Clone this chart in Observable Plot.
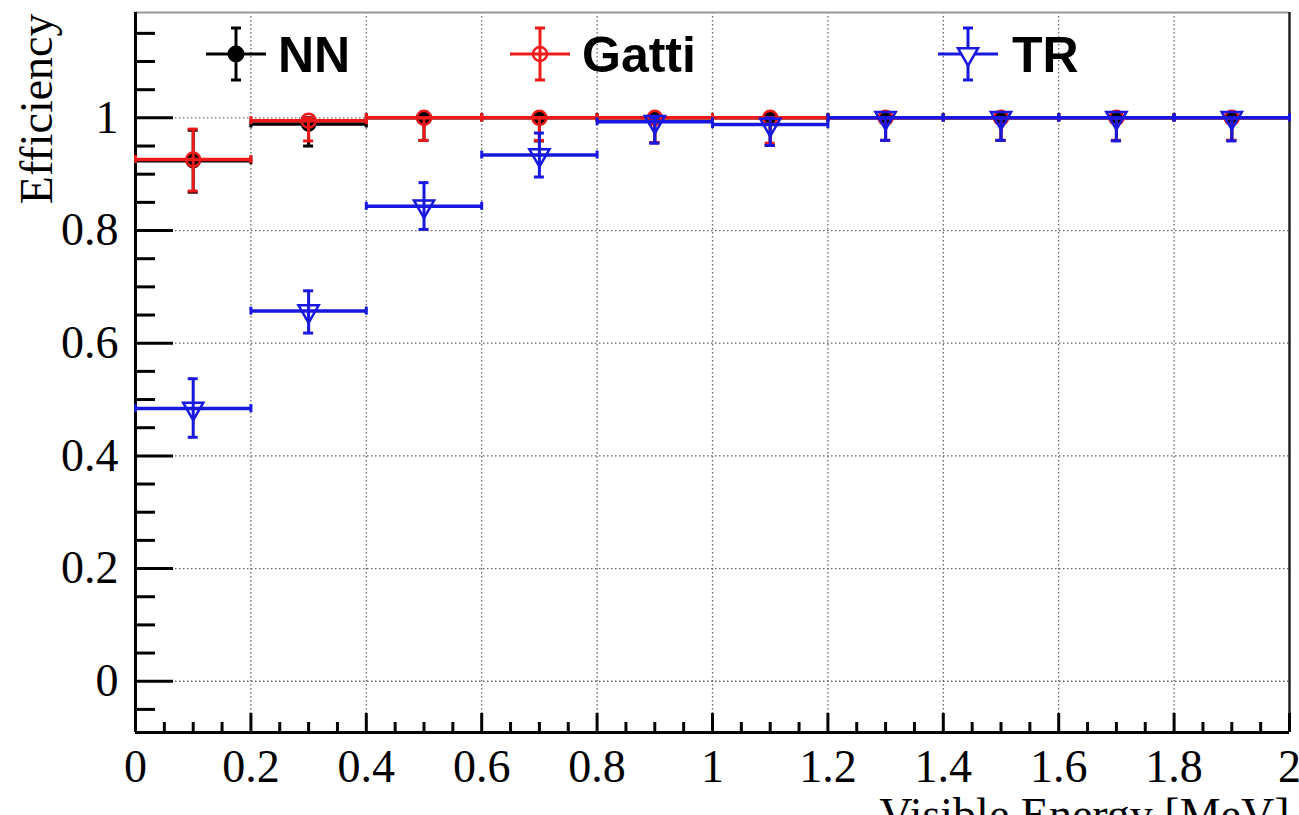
<!DOCTYPE html>
<html><head><meta charset="utf-8">
<script src="https://cdn.jsdelivr.net/npm/d3@7"></script>
<script src="https://cdn.jsdelivr.net/npm/@observablehq/plot@0.6"></script>
<style>html,body{margin:0;padding:0;background:#fff;overflow:hidden}</style>
</head><body><div id="chart"></div>
<script>
// ---- data ----
const binLo   = [0.0, 0.2, 0.4, 0.6, 0.8, 1.0, 1.2, 1.4, 1.6, 1.8];
const binHi   = [0.2, 0.4, 0.6, 0.8, 1.0, 1.2, 1.4, 1.6, 1.8, 2.0];
const binMid  = [0.1, 0.3, 0.5, 0.7, 0.9, 1.1, 1.3, 1.5, 1.7, 1.9];

const nnEff   = [0.924, 0.989, 1.000, 1.000, 1.000, 1.000, 1.000, 1.000, 1.000, 1.000];
const nnLo    = [0.868, 0.950, 0.960, 0.959, 0.956, 0.951, 0.960, 0.960, 0.960, 0.960];
const nnHi    = [0.978, 1.000, 1.000, 1.000, 1.000, 1.000, 1.000, 1.000, 1.000, 1.000];

const gattiEff = [0.926, 0.995, 1.000, 1.000, 1.000, 1.000, 1.000, 1.000, 1.000, 1.000];
const gattiLo  = [0.870, 0.959, 0.960, 0.960, 0.956, 0.955, 0.960, 0.960, 0.960, 0.960];
const gattiHi  = [0.980, 1.000, 1.000, 1.000, 1.000, 1.000, 1.000, 1.000, 1.000, 1.000];

const trEff   = [0.484, 0.657, 0.843, 0.934, 0.993, 0.988, 1.000, 1.000, 1.000, 1.000];
const trLo    = [0.433, 0.618, 0.802, 0.895, 0.955, 0.951, 0.960, 0.960, 0.959, 0.959];
const trHi    = [0.537, 0.693, 0.885, 0.973, 1.000, 1.000, 1.000, 1.000, 1.000, 1.000];

const seriesNames = ["NN", "Gatti", "TR"];

const xMajor = [0, 0.2, 0.4, 0.6, 0.8, 1, 1.2, 1.4, 1.6, 1.8, 2];
const xMinor = d3.range(0, 41).map(i => i * 0.05).filter((v, i) => i % 4 !== 0);
const yMajor = [0, 0.2, 0.4, 0.6, 0.8, 1];
const yMinor = [-0.05, 0.05, 0.1, 0.15, 0.25, 0.3, 0.35, 0.45, 0.5, 0.55, 0.65, 0.7, 0.75, 0.85, 0.9, 0.95, 1.05, 1.1, 1.15];
const xGrid = [0.2, 0.4, 0.6, 0.8, 1, 1.2, 1.4, 1.6, 1.8];
const yGrid = [0, 0.2, 0.4, 0.6, 0.8, 1];
const xDomain = [0, 2];
const yDomain = [-0.091, 1.187];

// ---- styling ----
const colors = {NN: "#000000", Gatti: "#ee1a1a", TR: "#1818e0"};
const serif = "'Liberation Serif', 'Times New Roman', serif";
const sans = "'Liberation Sans', Arial, sans-serif";

function rowsOf(eff, lo, hi) {
  return binMid.map((x, i) => ({x, x0: binLo[i], x1: binHi[i], y: eff[i], lo: lo[i], hi: hi[i]}));
}
const data = {
  NN: rowsOf(nnEff, nnLo, nnHi),
  Gatti: rowsOf(gattiEff, gattiLo, gattiHi),
  TR: rowsOf(trEff, trLo, trHi)
};

function seriesMarks(name) {
  const rows = data[name], c = colors[name];
  const marks = [
    Plot.ruleY(rows, {y: "y", x1: "x0", x2: "x1", stroke: c, strokeWidth: 3.5}),
    Plot.ruleX(rows, {x: "x", y1: "lo", y2: "hi", stroke: c, strokeWidth: 3}),
    Plot.ruleY(rows, {y: "lo", x1: "x", x2: "x", insetLeft: -5, insetRight: -5, stroke: c, strokeWidth: 3}),
    Plot.ruleY(rows, {y: "hi", x1: "x", x2: "x", insetLeft: -5, insetRight: -5, stroke: c, strokeWidth: 3}),
    Plot.ruleX(rows, {x: "x0", y1: "y", y2: "y", insetTop: -4, insetBottom: -4, stroke: c, strokeWidth: 3}),
    Plot.ruleX(rows, {x: "x1", y1: "y", y2: "y", insetTop: -4, insetBottom: -4, stroke: c, strokeWidth: 3})
  ];
  if (name === "NN") marks.push(Plot.dot(rows, {x: "x", y: "y", r: 7, fill: c, stroke: c}));
  if (name === "Gatti") marks.push(Plot.dot(rows, {x: "x", y: "y", r: 7, fill: "none", stroke: c, strokeWidth: 2.5}));
  if (name === "TR") marks.push(Plot.dot(rows, {x: "x", y: "y", r: 7.5, symbol: "triangle", rotate: 180, fill: "none", stroke: c, strokeWidth: 2.5}));
  return marks;
}

const W = 1299, H = 815;
const chart = Plot.plot({
  width: W, height: H,
  marginLeft: 135, marginRight: 10, marginTop: 12, marginBottom: 83,
  x: {domain: xDomain},
  y: {domain: yDomain},
  style: {background: "white"},
  marks: [
    // grid
    Plot.ruleX(xGrid, {stroke: "#666", strokeWidth: 1.3, strokeDasharray: "1.5,2.5"}),
    Plot.ruleY(yGrid, {stroke: "#666", strokeWidth: 1.3, strokeDasharray: "1.5,2.5"}),
    // frame
    Plot.ruleY([yDomain[1]], {stroke: "#999", strokeWidth: 2}),
    Plot.ruleX([xDomain[1]], {stroke: "#222", strokeWidth: 2.5}),
    Plot.ruleX([xDomain[0]], {stroke: "#000", strokeWidth: 3}),
    Plot.ruleY([yDomain[0]], {stroke: "#000", strokeWidth: 3}),
    // inward ticks
    Plot.ruleY(yMajor, {x1: xDomain[0], x2: xDomain[0], insetRight: -38, stroke: "#000", strokeWidth: 3}),
    Plot.ruleY(yMinor, {x1: xDomain[0], x2: xDomain[0], insetRight: -20, stroke: "#000", strokeWidth: 3}),
    Plot.ruleX(xMajor, {y1: yDomain[0], y2: yDomain[0], insetTop: -19, stroke: "#000", strokeWidth: 3}),
    Plot.ruleX(xMinor, {y1: yDomain[0], y2: yDomain[0], insetTop: -10, stroke: "#000", strokeWidth: 3}),
    // tick labels
    Plot.axisX(xMajor, {tickSize: 0, tickPadding: 17, fontSize: 46, fontFamily: serif, tickFormat: d => String(d), label: null, fill: "#000"}),
    Plot.axisY(yMajor, {tickSize: 0, tickPadding: 17, fontSize: 46, fontFamily: serif, tickFormat: d => String(d), label: null, fill: "#000"}),
    // axis titles
    Plot.text(["Efficiency"], {frameAnchor: "top-left", text: d => d, rotate: -90, textAnchor: "end", lineAnchor: "bottom", dx: -84, dy: 1, fontSize: 46, fontFamily: serif, fill: "#000"}),
    Plot.text(["Visible Energy [MeV]"], {frameAnchor: "bottom-right", text: d => d, textAnchor: "end", lineAnchor: "bottom", dy: 97, fontSize: 46, fontFamily: serif, fill: "#000"}),
    // series
    ...seriesNames.flatMap(seriesMarks)
  ]
});
document.getElementById("chart").appendChild(chart);

// ---- legend (inside the frame, top) ----
const svg = d3.select(chart);
const legendPos = {NN: {cx: 236, tx: 278}, Gatti: {cx: 540, tx: 582}, TR: {cx: 968, tx: 1012}};
const lg = svg.append("g").attr("text-anchor", "start");
for (const name of seriesNames) {
  const {cx, tx} = legendPos[name], c = colors[name], cy = 54;
  const g = lg.append("g").attr("stroke", c).attr("stroke-width", 3).attr("fill", "none");
  g.append("line").attr("x1", cx - 30).attr("x2", cx + 30).attr("y1", cy).attr("y2", cy);
  g.append("line").attr("x1", cx).attr("x2", cx).attr("y1", cy - 26).attr("y2", cy + 26);
  g.append("line").attr("x1", cx - 5).attr("x2", cx + 5).attr("y1", cy - 26).attr("y2", cy - 26);
  g.append("line").attr("x1", cx - 5).attr("x2", cx + 5).attr("y1", cy + 26).attr("y2", cy + 26);
  if (name === "NN") g.append("circle").attr("cx", cx).attr("cy", cy).attr("r", 7).attr("fill", c);
  if (name === "Gatti") g.append("circle").attr("cx", cx).attr("cy", cy).attr("r", 7).attr("fill", "none").attr("stroke-width", 2.5);
  if (name === "TR") g.append("path").attr("transform", `translate(${cx},${cy}) rotate(180)`)
      .attr("d", d3.symbol(d3.symbolTriangle, Math.PI * 7.5 * 7.5)()).attr("fill", "white").attr("stroke-width", 2.5);
  lg.append("text").attr("x", tx).attr("y", 72).attr("text-anchor", "start").attr("font-family", sans).attr("font-weight", "bold")
    .attr("font-size", 50).attr("fill", "#000").text(name);
}
</script>
</body></html>
